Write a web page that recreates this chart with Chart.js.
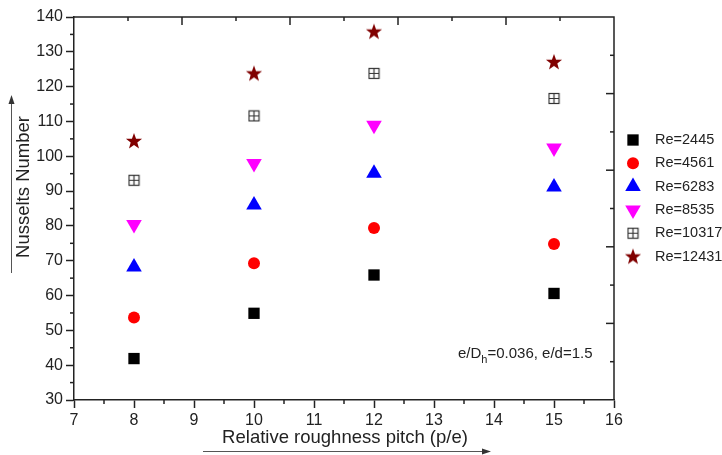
<!DOCTYPE html>
<html>
<head>
<meta charset="utf-8">
<script src="https://cdn.jsdelivr.net/npm/chart.js@4.4.1/dist/chart.umd.min.js"></script>
<style>
  html, body { margin: 0; padding: 0; background: #fff; }
  #wrap { width: 722px; height: 455px; position: relative; }
</style>
</head>
<body>
<div id="wrap"><canvas id="nuChart"></canvas></div>
<script>
// Relative roughness pitch (p/e) and Nusselt number for each Reynolds number
const pitch = [8, 10, 12, 15];
const seriesNames = ['Re=2445', 'Re=4561', 'Re=6283', 'Re=8535', 'Re=10317', 'Re=12431'];
const re2445 = [41.9, 54.9, 65.9, 60.6];
const re4561 = [53.7, 69.3, 79.4, 74.8];
const re6283 = [68.2, 86.0, 95.1, 91.2];
const re8535 = [80.4, 97.9, 108.9, 102.4];
const re10317 = [93.1, 111.6, 123.8, 116.6];
const re12431 = [104.4, 123.8, 135.8, 127.1];

const xRange = [7, 16];
const yRange = [30, 140];
const xMinorTicks = [7.5, 8.5, 9.5, 10.5, 11.5, 12.5, 13.5, 14.5, 15.5];
const yMinorTicks = [35, 45, 55, 65, 75, 85, 95, 105, 115, 125, 135];

const FONT = "'Liberation Sans', Arial, sans-serif";
const INK = '#222';

// marker images that Chart.js has no built-in style for
function makeStar() {
    const c = document.createElement('canvas');
    c.width = 18; c.height = 18;
    const g = c.getContext('2d');
    g.fillStyle = '#800000';
    g.beginPath();
    for (let i = 0; i < 10; i++) {
        const r = i % 2 === 0 ? 8.5 : 3.5;
        const a = -Math.PI / 2 + i * Math.PI / 5;
        const px = 9 + r * Math.cos(a), py = 9.5 + r * Math.sin(a);
        i === 0 ? g.moveTo(px, py) : g.lineTo(px, py);
    }
    g.closePath();
    g.fill();
    return c;
}

function makeCrossBox() {
    const c = document.createElement('canvas');
    c.width = 13; c.height = 13;
    const g = c.getContext('2d');
    g.strokeStyle = '#333';
    g.lineWidth = 1.2;
    g.strokeRect(1.5, 1.5, 10, 10);
    g.beginPath();
    g.moveTo(6.5, 1.5); g.lineTo(6.5, 11.5);
    g.moveTo(1.5, 6.5); g.lineTo(11.5, 6.5);
    g.stroke();
    return c;
}

const toPoints = vals => pitch.map((p, i) => ({ x: p, y: vals[i] }));

const datasets = [
    { label: seriesNames[0], data: toPoints(re2445), pointStyle: 'rect', pointRadius: 8, backgroundColor: '#000', borderColor: '#000' },
    { label: seriesNames[1], data: toPoints(re4561), pointStyle: 'circle', pointRadius: 6, backgroundColor: '#ff0000', borderColor: '#ff0000' },
    { label: seriesNames[2], data: toPoints(re6283), pointStyle: 'triangle', pointRadius: 9, backgroundColor: '#0000ff', borderColor: '#0000ff' },
    { label: seriesNames[3], data: toPoints(re8535), pointStyle: 'triangle', rotation: 180, pointRadius: 9, backgroundColor: '#ff00ff', borderColor: '#ff00ff' },
    { label: seriesNames[4], data: toPoints(re10317), pointStyle: makeCrossBox(), pointRadius: 7, backgroundColor: '#444', borderColor: '#444' },
    { label: seriesNames[5], data: toPoints(re12431), pointStyle: makeStar(), pointRadius: 9, backgroundColor: '#800000', borderColor: '#800000' }
];
datasets.forEach(d => { d.borderWidth = 0; d.pointHoverRadius = d.pointRadius; d.showLine = false; });

function tickLine(ctx, x1, y1, x2, y2) {
    ctx.beginPath();
    ctx.moveTo(x1, y1);
    ctx.lineTo(x2, y2);
    ctx.stroke();
}

function arrowHead(ctx, x, y, dir) {
    // dir: 'up' or 'right'
    ctx.beginPath();
    if (dir === 'up') {
        ctx.moveTo(x, y); ctx.lineTo(x - 3, y + 9); ctx.lineTo(x + 3, y + 9);
    } else {
        ctx.moveTo(x, y); ctx.lineTo(x - 9, y - 3); ctx.lineTo(x - 9, y + 3);
    }
    ctx.closePath();
    ctx.fill();
}

const decorations = {
    id: 'decorations',
    afterDraw(chart) {
        const { ctx, chartArea: a, scales: { x, y } } = chart;
        ctx.save();
        ctx.strokeStyle = INK;
        ctx.fillStyle = INK;
        ctx.lineWidth = 1.5;

        // top and right frame lines
        ctx.beginPath();
        ctx.moveTo(a.left, a.top);
        ctx.lineTo(a.right, a.top);
        ctx.lineTo(a.right, a.bottom);
        ctx.stroke();

        // minor ticks, outward, on left and bottom axes
        yMinorTicks.forEach(v => { const py = y.getPixelForValue(v); tickLine(ctx, a.left - 4, py, a.left, py); });
        xMinorTicks.forEach(v => { const px = x.getPixelForValue(v); tickLine(ctx, px, a.bottom, px, a.bottom + 4); });

        // top and right axes: 10 divisions, ticks pointing inward
        for (let i = 1; i < 10; i++) {
            const len = i % 2 === 0 ? 8 : 4;
            const px = a.left + (a.right - a.left) * i / 10;
            tickLine(ctx, px, a.top, px, a.top + len);
            const py = a.top + (a.bottom - a.top) * i / 10;
            tickLine(ctx, a.right, py, a.right - len, py);
        }

        // axis titles with arrows
        ctx.font = '18.5px ' + FONT;
        ctx.textAlign = 'center';
        ctx.textBaseline = 'middle';
        ctx.fillText('Relative roughness pitch (p/e)', 345, 438);
        ctx.save();
        ctx.translate(24, 187);
        ctx.rotate(-Math.PI / 2);
        ctx.fillText('Nusselts Number', 0, 0);
        ctx.restore();

        ctx.strokeStyle = '#555';
        ctx.fillStyle = '#333';
        ctx.lineWidth = 1;
        tickLine(ctx, 203, 451.5, 484, 451.5);
        arrowHead(ctx, 491, 451.5, 'right');
        tickLine(ctx, 11.5, 273, 11.5, 102);
        arrowHead(ctx, 11.5, 95, 'up');

        // annotation with subscript
        ctx.fillStyle = INK;
        ctx.textAlign = 'left';
        ctx.textBaseline = 'alphabetic';
        let tx = 458;
        ctx.font = '15px ' + FONT;
        ctx.fillText('e/D', tx, 358);
        tx += ctx.measureText('e/D').width;
        ctx.font = '11px ' + FONT;
        ctx.fillText('h', tx, 363);
        tx += ctx.measureText('h').width;
        ctx.font = '15px ' + FONT;
        ctx.fillText('=0.036, e/d=1.5', tx, 358);

        // legend
        ctx.font = '14.5px ' + FONT;
        ctx.textBaseline = 'middle';
        chart.data.datasets.forEach((ds, i) => {
            const ly = 140 + i * 23.3;
            ctx.fillStyle = ds.backgroundColor;
            Chart.helpers.drawPoint(ctx, {
                pointStyle: ds.pointStyle,
                rotation: ds.rotation || 0,
                radius: ds.pointRadius,
                borderWidth: 0
            }, 633, ly);
            ctx.fillStyle = INK;
            ctx.fillText(ds.label, 655, ly);
        });
        ctx.restore();
    }
};

const axisCommon = {
    border: { display: true, color: INK, width: 1.5 },
    grid: { display: true, drawOnChartArea: false, drawTicks: true, tickLength: 8, tickColor: INK, tickWidth: 1.5 },
    ticks: { color: INK, font: { family: FONT, size: 16 } }
};

new Chart(document.getElementById('nuChart'), {
    type: 'scatter',
    data: { datasets },
    options: {
        responsive: true,
        maintainAspectRatio: false,
        animation: false,
        layout: { padding: { left: 0, top: 17, right: 108, bottom: 0 } },
        plugins: { legend: { display: false }, tooltip: { enabled: false } },
        scales: {
            x: {
                ...axisCommon,
                min: xRange[0], max: xRange[1],
                ticks: { ...axisCommon.ticks, stepSize: 1, padding: 3 },
                afterFit: s => { s.height = 55; }
            },
            y: {
                ...axisCommon,
                min: yRange[0], max: yRange[1],
                ticks: { ...axisCommon.ticks, stepSize: 10, padding: 3 },
                afterFit: s => { s.width = 74; }
            }
        }
    },
    plugins: [decorations]
});
</script>
</body>
</html>
